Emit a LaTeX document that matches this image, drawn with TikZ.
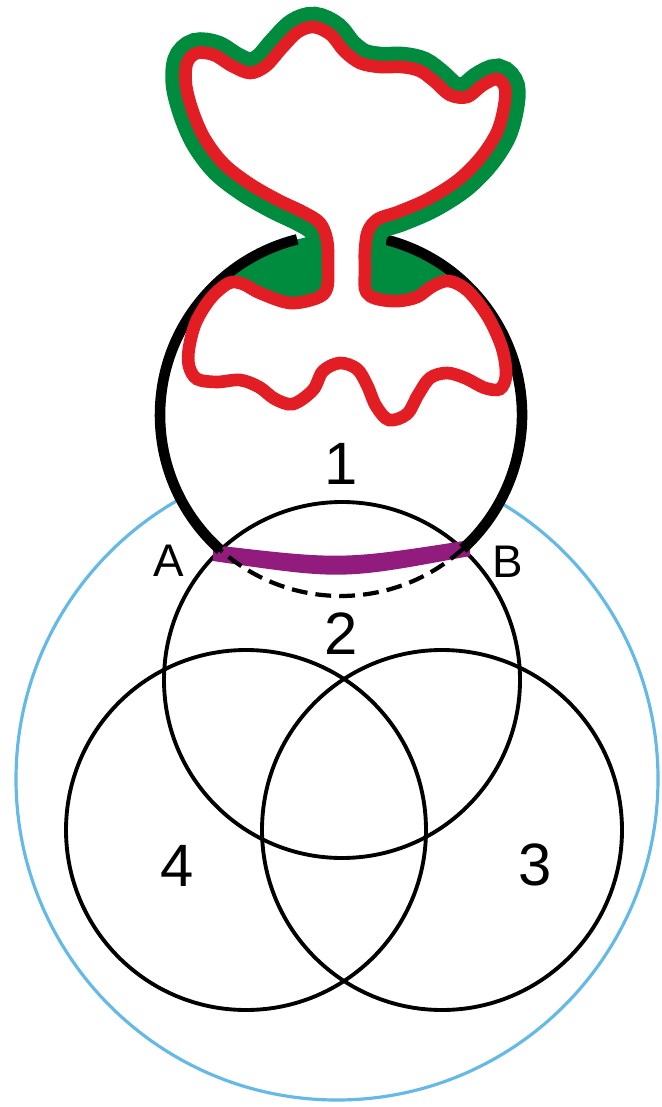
\documentclass[tikz,border=0pt]{standalone}
\usepackage{fontspec}
\setmainfont{Liberation Sans}
\definecolor{leafgreen}{RGB}{0,140,62}
\definecolor{rimred}{RGB}{226,30,36}
\definecolor{bandpurple}{RGB}{145,28,125}
\definecolor{skyblue}{RGB}{100,185,230}
\begin{document}
\begin{tikzpicture}[
      x=0.01cm, y=-0.01cm,
      ring/.style={draw=black, line width=1.1pt},
      boldring/.style={draw=black, line width=3pt},
      hidden/.style={draw=black, line width=1.2pt, dash pattern=on 4.5pt off 2.3pt},
      digit/.style={inner sep=0pt, font=\fontsize{17}{17}\selectfont},
      letter/.style={inner sep=0pt, font=\fontsize{13}{13}\selectfont}
    ]
      \useasboundingbox (0,0) rectangle (661,1107);
      \coordinate (c0) at (337,779);
      \coordinate (c1) at (341,415);
      \coordinate (c2) at (342,680);
      \coordinate (c3) at (442,830);
      \coordinate (c4) at (246,830);
      \draw[skyblue, line width=0.9pt] (c0) circle[radius=321];
      \fill[white] (c1) circle[radius=181];
      \draw[ring] (c2) circle[radius=178];
      \draw[ring] (c3) circle[radius=180];
      \draw[ring] (c4) circle[radius=180];
      \fill[leafgreen] (c1) ++(-130:181) arc[start angle=-130, end angle=-100, radius=181] -- (335,236) -- (335,310) -- (240,300) -- cycle;
      \fill[leafgreen] (c1) ++(-80:181) arc[start angle=-80, end angle=-50, radius=181] -- (445,300) -- (350,310) -- (350,236) -- cycle;
      \fill[bandpurple] (213,545) .. controls (342,560) .. (470,540) -- (470,556) .. controls (342,580) .. (213,561) -- cycle;
      \draw[boldring] (c1) ++(-76:181) arc[start angle=-76, end angle=47.7, radius=181];
      \draw[boldring] (c1) ++(131.8:181) arc[start angle=131.8, end angle=256, radius=181];
      \draw[hidden] (c1) ++(47.7:181) arc[start angle=47.7, end angle=131.8, radius=181];
      \draw[leafgreen, line width=11.5pt] plot[smooth, tension=0.55] coordinates {
        (327,288) (328,262) (327,240) (320,223) (303,212) (278,200) (250,184) (224,164) (205,139) (193,112)
        (186,85) (187,63) (197,53) (214,55) (232,66) (250,73) (266,66) (282,48) (298,32) (314,27)
        (331,35) (344,51) (360,63) (380,67) (402,67) (420,71) (435,82) (450,95) (467,97) (483,85)
        (497,79) (505,88) (504,107) (497,132) (481,157) (458,180) (428,199) (398,212) (378,219) (368,231)
        (365,250) (365,270) (365,288)};
      \filldraw[fill=white, draw=rimred, line width=3.6pt] plot[smooth cycle, tension=0.55] coordinates {
        (327,288) (328,262) (327,240) (320,223) (303,212) (278,200) (250,184) (224,164) (205,139) (193,112)
        (186,85) (187,63) (197,53) (214,55) (232,66) (250,73) (266,66) (282,48) (298,32) (314,27)
        (331,35) (344,51) (360,63) (380,67) (402,67) (420,71) (435,82) (450,95) (467,97) (483,85)
        (497,79) (505,88) (504,107) (497,132) (481,157) (458,180) (428,199) (398,212) (378,219) (368,231)
        (365,250) (365,270) (365,288)
        (370,296) (382,300) (399,301) (417,297) (433,286) (449,281) (468,291) (488,317) (502,348) (506,375)
        (500,389) (485,388) (465,378) (447,373) (430,378) (418,395) (407,414) (389,420) (376,406) (367,385)
        (357,369) (340,363) (323,371) (313,390) (293,404) (275,399) (259,387) (240,380) (217,382) (197,379)
        (189,366) (189,348) (196,322) (211,298) (229,283) (243,284) (260,293) (290,303) (317,298)};
      \node[digit] (n1) at (341,464) {1};
      \node[digit] (n2) at (341,634) {2};
      \node[digit] (n3) at (535,865) {3};
      \node[digit] (n4) at (177,866) {4};
      \node[letter] (na) at (169,561) {A};
      \node[letter] (nb) at (508,562) {B};
    \end{tikzpicture}
\end{document}
